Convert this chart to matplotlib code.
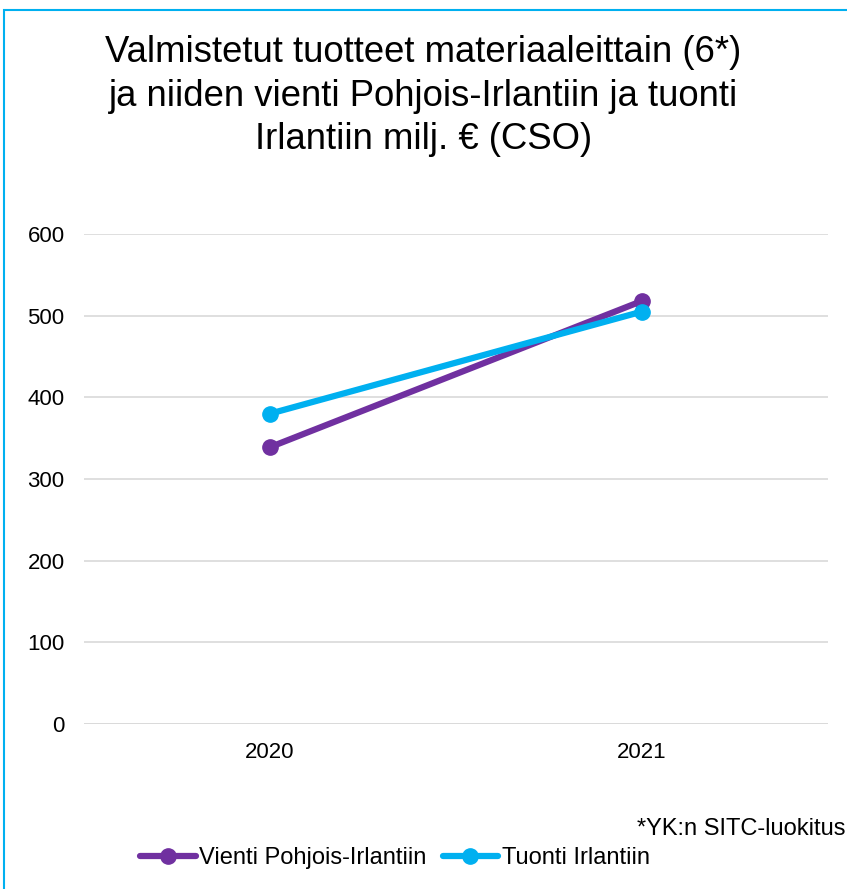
import matplotlib
matplotlib.use("Agg")
import matplotlib.pyplot as plt
from matplotlib.patches import Rectangle

plt.rcParams['font.family'] = ['Liberation Sans', 'DejaVu Sans']

years = ["2020", "2021"]
vienti = [339, 518]
tuonti = [380, 505]
yticks = [0, 100, 200, 300, 400, 500, 600]
title = "Valmistetut tuotteet materiaaleittain (6*)\nja niiden vienti Pohjois-Irlantiin ja tuonti\nIrlantiin milj. € (CSO)"

W, H = 847, 889
fig = plt.figure(figsize=(W/100, H/100), dpi=100)
ax = fig.add_axes([84/W, 1-724/H, (828-84)/W, (724-234)/H])

x = list(range(len(years)))
ax.plot(x, vienti, color="#7030A0", lw=4.5, marker="o", ms=11, label="Vienti Pohjois-Irlantiin", solid_capstyle="round")
ax.plot(x, tuonti, color="#00B0F0", lw=4.5, marker="o", ms=11, label="Tuonti Irlantiin", solid_capstyle="round")

ax.set_xlim(-0.5, 1.5)
ax.set_ylim(0, 600)
ax.set_yticks(yticks)
ax.set_xticks(x)
ax.set_xticklabels(years)
ax.tick_params(axis="both", length=0, labelsize=16, colors="black")
ax.tick_params(axis="x", pad=13)
ax.tick_params(axis="y", pad=14)
ax.grid(axis="y", color="#D9D9D9", lw=1.2)
ax.set_axisbelow(True)
for s in ax.spines.values():
    s.set_visible(False)
ax.axhline(0, color="#D9D9D9", lw=1.2, zorder=0)

fig.text(0.5, 1-96/H, title, ha="center", va="center", fontsize=26.3, linespacing=1.32)
fig.text(637/W, 1-829/H, "*YK:n SITC-luokitus", ha="left", va="center", fontsize=17)

leg = fig.legend(loc="center", bbox_to_anchor=(395/W, 1-858/H), ncol=2, frameon=False,
                 fontsize=17, handlelength=2.33, handletextpad=0.15, columnspacing=0.7)

fig.patches.append(Rectangle((4/W, -0.1), 1.2, 1-10/H+0.1, transform=fig.transFigure,
                             fill=False, edgecolor="#00B0F0", lw=1.5))

fig.savefig("out.png", dpi=100)
